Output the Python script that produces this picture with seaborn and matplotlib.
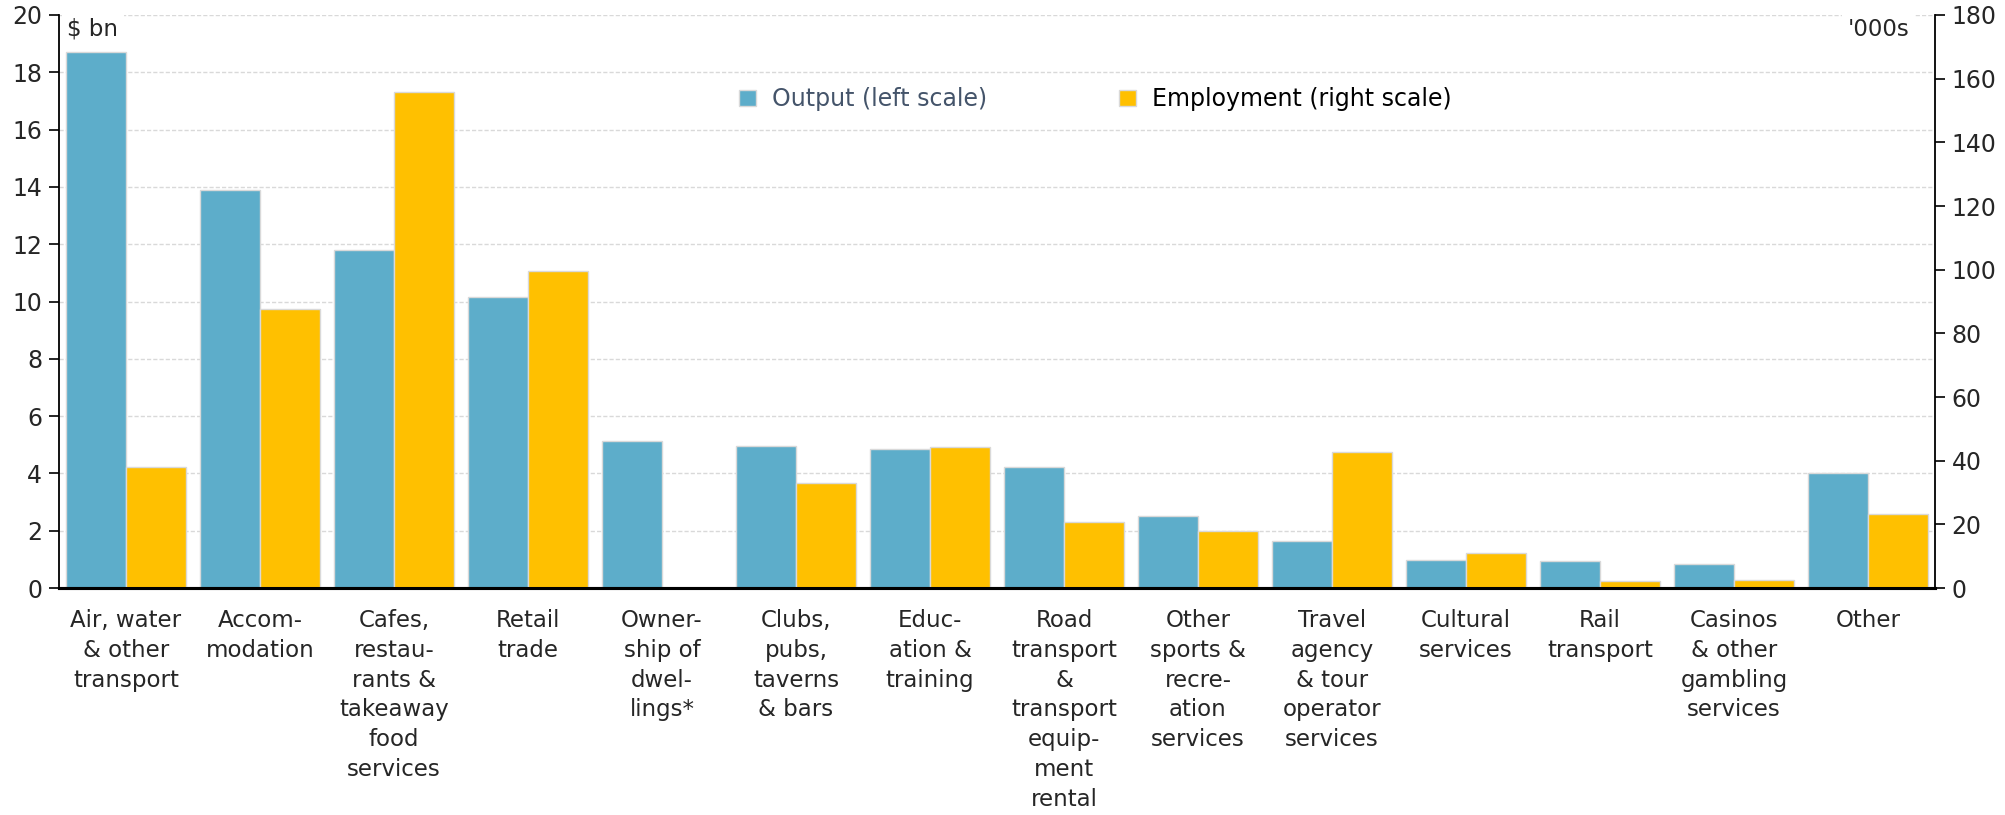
import numpy as np
import pandas as pd
import matplotlib
matplotlib.use("Agg")
import matplotlib.pyplot as plt
from matplotlib.patches import Patch
import seaborn as sns

# Tourism industries: gross output ($ bn) and employment ('000s)
categories = [
    "Air, water\n& other\ntransport",
    "Accom-\nmodation",
    "Cafes,\nrestau-\nrants &\ntakeaway\nfood\nservices",
    "Retail\ntrade",
    "Owner-\nship of\ndwel-\nlings*",
    "Clubs,\npubs,\ntaverns\n& bars",
    "Educ-\nation &\ntraining",
    "Road\ntransport\n&\ntransport\nequip-\nment\nrental",
    "Other\nsports &\nrecre-\nation\nservices",
    "Travel\nagency\n& tour\noperator\nservices",
    "Cultural\nservices",
    "Rail\ntransport",
    "Casinos\n& other\ngambling\nservices",
    "Other",
]
output_bn = [18.7, 13.9, 11.8, 10.15, 5.13, 4.96, 4.85, 4.22, 2.53, 1.65, 0.98, 0.96, 0.85, 4.02]
employment_k = [38.1, 87.5, 155.9, 99.6, 0.0, 32.9, 44.4, 20.8, 18.0, 42.7, 11.0, 2.2, 2.5, 23.1]

series_names = ["Output (left scale)", "Employment (right scale)"]
left_ticks = list(range(0, 21, 2))
right_ticks = list(range(0, 181, 20))

BLUE = "#5DADCA"
YELLOW = "#FFC000"
EDGE = "#D9D9D9"
GRID = "#D9D9D9"

out_df = pd.DataFrame({"category": categories, "series": series_names[0], "value": output_bn})
emp_df = pd.DataFrame({"category": categories, "series": series_names[1], "value": employment_k})
palette = {series_names[0]: BLUE, series_names[1]: YELLOW}

sns.set_style("white")
plt.rcParams["font.family"] = ["DejaVu Sans"]
plt.rcParams["font.size"] = 16.5

FS = 16.5

fig = plt.figure(figsize=(20.05, 8.15), dpi=100)
ax = fig.add_axes([0.0294, 0.2785, 0.9357, 0.7031])
ax2 = ax.twinx()

common = dict(x="category", y="value", hue="series", hue_order=series_names,
              order=categories, palette=palette, width=0.9, dodge=True,
              saturation=1, edgecolor=EDGE, linewidth=1.0, legend=False)
sns.barplot(data=out_df, ax=ax, **common)
sns.barplot(data=emp_df, ax=ax2, **common)

# y scales
ax.set_ylim(0, 20)
ax.set_yticks(left_ticks)
ax2.set_ylim(0, 180)
ax2.set_yticks(right_ticks)
ax.set_ylabel("")
ax2.set_ylabel("")
ax.set_xlabel("")

# horizontal dashed grid from the left scale
ax.set_axisbelow(True)
ax.yaxis.grid(True, color=GRID, linestyle=(0, (3, 1.5)), linewidth=1.0)
ax.xaxis.grid(False)
ax2.grid(False)

# category axis: separators between groups, labels at group centres
n = len(categories)
ax.set_xlim(-0.5, n - 0.5)
ax.set_xticks(np.arange(-0.5, n, 1.0))
ax.set_xticklabels([])
ax.set_xticks(np.arange(n), minor=True)
ax.set_xticklabels(categories, minor=True, fontsize=FS, linespacing=1.38,
                   ha="center", va="top")
ax.tick_params(axis="x", which="major", length=7, width=1.2, color="black", direction="out")
ax.tick_params(axis="x", which="minor", length=0, pad=15)

ax.tick_params(axis="y", which="major", length=7, width=1.2, color="black",
               direction="out", labelsize=17, pad=5, left=True)
ax2.tick_params(axis="y", which="major", length=7, width=1.2, color="black",
                direction="out", labelsize=17, pad=5, right=True)

for a in (ax, ax2):
    a.spines["top"].set_visible(False)
    a.spines["left"].set_color("black")
    a.spines["right"].set_color("black")
    a.spines["bottom"].set_color("black")
    a.spines["left"].set_linewidth(1.3)
    a.spines["right"].set_linewidth(1.3)
    a.spines["bottom"].set_linewidth(2.2)
ax.spines["right"].set_visible(False)
ax2.spines["left"].set_visible(False)

# unit labels
ax.text(0.0045, 0.995, "$ bn", transform=ax.transAxes, ha="left", va="top",
        fontsize=FS, bbox=dict(facecolor="white", edgecolor="none", pad=4), zorder=5)
ax2.text(0.9865, 0.995, "'000s", transform=ax2.transAxes, ha="right", va="top",
         fontsize=FS, bbox=dict(facecolor="white", edgecolor="none", pad=4), zorder=5)

# legend
handles = [Patch(facecolor=BLUE, edgecolor=EDGE, linewidth=1.0, label=series_names[0]),
           Patch(facecolor=YELLOW, edgecolor=EDGE, linewidth=1.0, label=series_names[1])]
leg = ax2.legend(handles=handles, ncol=2, loc="center left",
                 bbox_to_anchor=(0.358, 0.878), bbox_transform=fig.transFigure,
                 frameon=False, fontsize=17, handlelength=0.7, handleheight=0.7,
                 handletextpad=0.7, columnspacing=5.6)
leg.get_texts()[0].set_color("#44546A")
leg.get_texts()[1].set_color("black")

fig.savefig("out.png", dpi=100, facecolor="white")
